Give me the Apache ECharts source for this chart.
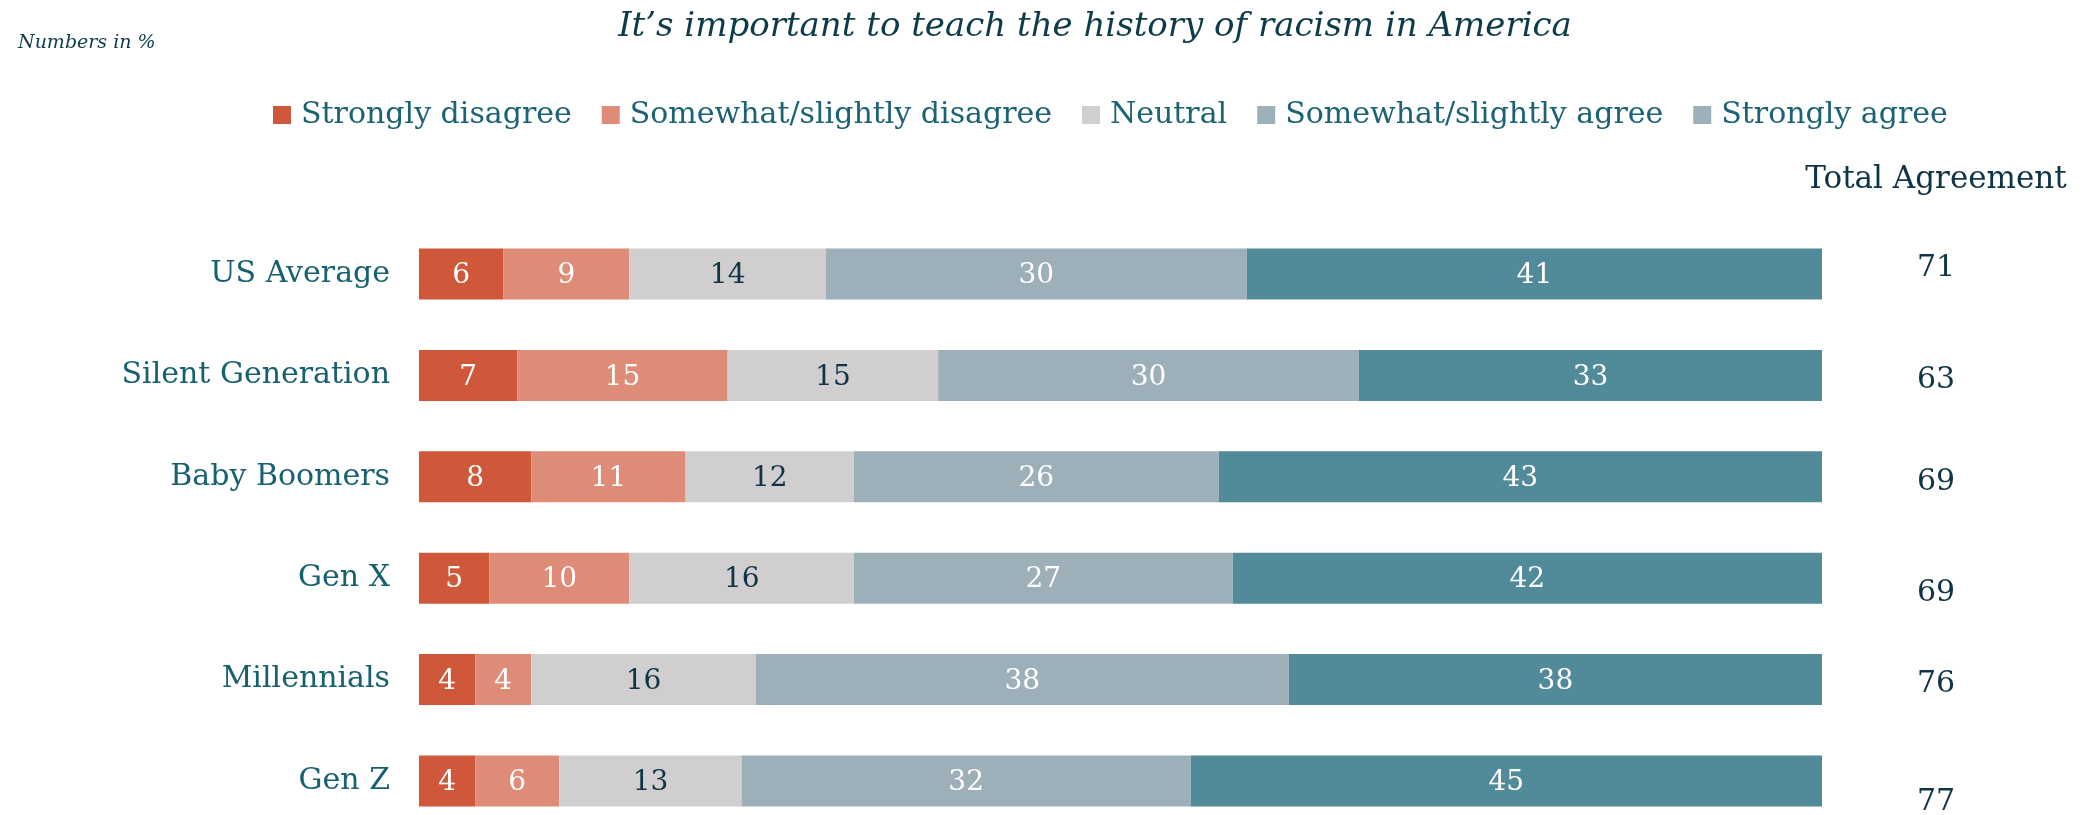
<!DOCTYPE html>
<html>
<head>
<meta charset="utf-8">
<style>
  html, body { margin: 0; padding: 0; background: #ffffff; }
  #chart { width: 2088px; height: 815px; }
</style>
<script src="https://cdn.jsdelivr.net/npm/echarts@6/dist/echarts.min.js"></script>
</head>
<body>
<div id="chart"></div>
<script>
// ---- data ----
const categories = ['US Average', 'Silent Generation', 'Baby Boomers', 'Gen X', 'Millennials', 'Gen Z'];
const seriesNames = ['Strongly disagree', 'Somewhat/slightly disagree', 'Neutral', 'Somewhat/slightly agree', 'Strongly agree'];
const stronglyDisagree = [6, 7, 8, 5, 4, 4];
const somewhatDisagree = [9, 15, 11, 10, 4, 6];
const neutral = [14, 15, 12, 16, 16, 13];
const somewhatAgree = [30, 30, 26, 27, 38, 32];
const stronglyAgree = [41, 33, 43, 42, 38, 45];
const totalAgreement = [71, 63, 69, 69, 76, 77];
const totalHeader = 'Total Agreement';

// ---- styles ----
const FONT = 'DejaVu Serif';
const barColors = ['#D0583A', '#DE8B78', '#D0CECF', '#9DAFB9', '#518A98'];
const legendIconColors = ['#D0583A', '#DE8B78', '#D0CECF', '#9DAFB9', '#9DAFB9'];
const labelColors = ['#ffffff', '#ffffff', '#0E3446', '#ffffff', '#ffffff'];
const totalLabelShift = [-6, 5, 5, 15, 5, 21];

const values = [stronglyDisagree, somewhatDisagree, neutral, somewhatAgree, stronglyAgree];

// first and last category centres (boundaryGap off)
const gridTop = 274, gridHeight = 507;

const barSeries = seriesNames.map((name, i) => ({
  name: name,
  type: 'bar',
  stack: 'total',
  xAxisIndex: 0,
  yAxisIndex: 0,
  barWidth: 51,
  data: values[i],
  itemStyle: { color: barColors[i] },
  label: {
    show: true,
    position: 'inside',
    color: labelColors[i],
    fontFamily: FONT,
    fontSize: 28,
    offset: [0, 2]
  },
  emphasis: { disabled: true }
}));

const totalSeries = {
  name: 'Total',
  type: 'scatter',
  xAxisIndex: 1,
  yAxisIndex: 1,
  symbolSize: 1,
  itemStyle: { color: 'rgba(255,255,255,0)', opacity: 1 },
  data: categories.map((c, i) => ({
    value: [totalHeader, c, totalAgreement[i]],
    label: { offset: [0, totalLabelShift[i]] }
  })),
  label: {
    show: true,
    position: 'inside',
    color: '#0E3446',
    fontFamily: FONT,
    fontSize: 30,
    formatter: p => String(p.value[2])
  },
  emphasis: { disabled: true }
};

const option = {
  animation: false,
  backgroundColor: '#ffffff',
  title: [
    {
      text: 'It\u2019s important to teach the history of racism in America',
      left: 1090,
      textAlign: 'center',
      top: 5,
      textStyle: { fontFamily: FONT, fontStyle: 'italic', fontWeight: 'normal', fontSize: 34, color: '#0D3B4A' }
    },
    {
      text: 'Numbers in %',
      left: 13,
      top: 29,
      textStyle: { fontFamily: FONT, fontStyle: 'italic', fontWeight: 'normal', fontSize: 19, color: '#0D3B4A' }
    }
  ],
  legend: {
    left: 268,
    top: 95,
    itemWidth: 18,
    itemHeight: 18,
    itemGap: 30,
    icon: 'rect',
    selectedMode: false,
    textStyle: { fontFamily: FONT, fontSize: 30, color: '#1A6274', padding: [0, 0, 0, 5] },
    data: seriesNames.map((n, i) => ({ name: n, itemStyle: { color: legendIconColors[i] } }))
  },
  grid: [
    { left: 419, width: 1403, top: gridTop, height: gridHeight, containLabel: false },
    { left: 1886, width: 100, top: gridTop, height: gridHeight, containLabel: false }
  ],
  xAxis: [
    { type: 'value', gridIndex: 0, min: 0, max: 100, show: false },
    {
      type: 'category', gridIndex: 1, position: 'top', data: [totalHeader],
      axisLine: { show: false }, axisTick: { show: false }, splitLine: { show: false },
      axisLabel: { color: '#0E3446', fontFamily: FONT, fontSize: 31, margin: 79, interval: 0 }
    }
  ],
  yAxis: [
    {
      type: 'category', gridIndex: 0, data: categories, inverse: true, boundaryGap: false,
      axisLine: { show: false }, axisTick: { show: false }, splitLine: { show: false },
      axisLabel: { color: '#17606F', fontFamily: FONT, fontSize: 30, margin: 29 }
    },
    {
      type: 'category', gridIndex: 1, data: categories, inverse: true, boundaryGap: false, show: false
    }
  ],
  series: [...barSeries, totalSeries]
};

const chart = echarts.init(document.getElementById('chart'), null, { renderer: 'canvas' });
chart.setOption(option);
</script>
</body>
</html>
